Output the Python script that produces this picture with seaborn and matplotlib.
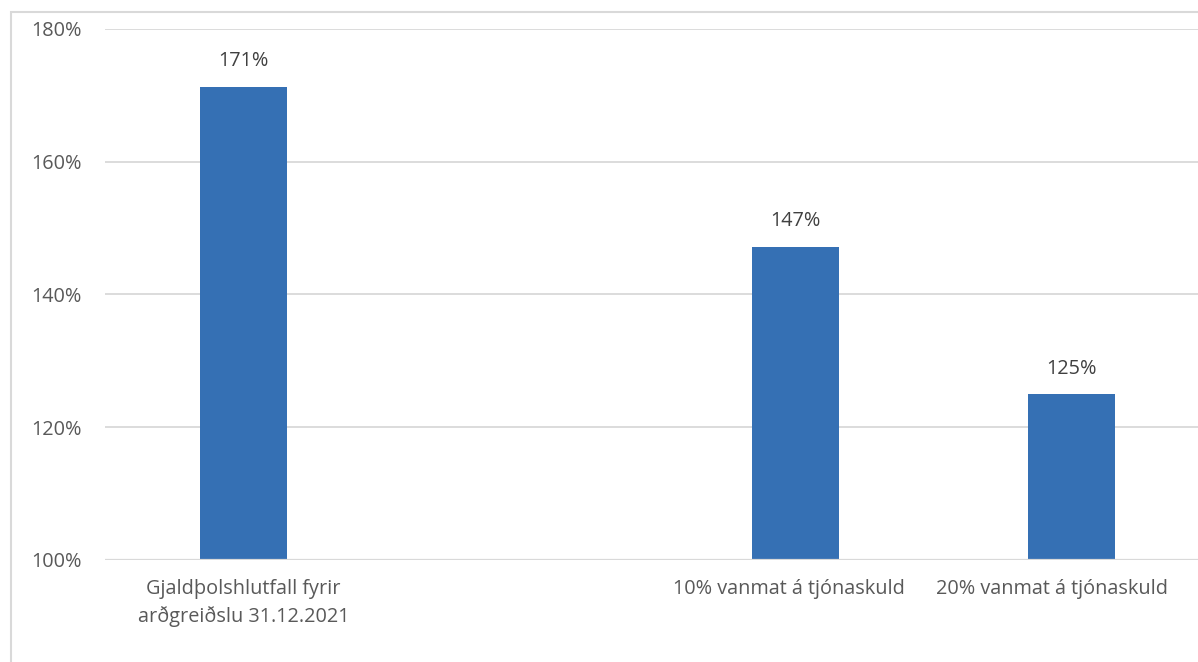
import matplotlib
matplotlib.use("Agg")
import matplotlib.pyplot as plt
import matplotlib.transforms as mtransforms
import seaborn as sns
import pandas as pd
import numpy as np
from matplotlib.patches import Rectangle

# Solvency ratio before dividend and under claim-reserve shortfall scenarios
categories = [
    "Gjaldþolshlutfall fyrir\narðgreiðslu 31.12.2021",
    " ",
    "10% vanmat á tjónaskuld",
    "20% vanmat á tjónaskuld",
]
ratios = [171.3, np.nan, 147.2, 125.0]
y_ticks = [100, 120, 140, 160, 180]

sns.set_theme(style="white")
plt.rcParams["font.family"] = ["Open Sans", "DejaVu Sans"]

W, H = 1198, 662
fig = plt.figure(figsize=(W / 100, H / 100), dpi=100)

# Outer chart frame
fig.patches.append(Rectangle((11 / W, -0.1), 1.2, 1 - 12 / H + 0.1,
                             transform=fig.transFigure, fill=False,
                             edgecolor="#d9d9d9", linewidth=1.5, zorder=0))

ax = fig.add_axes([105.3 / W, 1 - 560 / H, 1 - 105.3 / W, (560 - 29) / H])

df = pd.DataFrame({"cat": categories, "val": ratios})
sns.barplot(data=df, x="cat", y="val", order=categories, color="#3570b4",
            saturation=1, width=0.315, linewidth=0, ax=ax, zorder=3)

ax.set_xlim(-0.5, (W - 243.3) / 276)
ax.set_ylim(100, 180)
ax.set_yticks(y_ticks)
ax.set_yticklabels([f"{t}%" for t in y_ticks])
ax.grid(axis="y", color="#d9d9d9", linewidth=1.3, zorder=0)
ax.set_axisbelow(True)
for s in ax.spines.values():
    s.set_visible(False)
ax.axhline(100, color="#d9d9d9", linewidth=1.6, zorder=4)

ax.set_xlabel("")
ax.set_ylabel("")
ax.tick_params(axis="y", length=0, pad=17, labelsize=14.3, labelcolor="#595959")
ax.tick_params(axis="x", length=0, pad=14, labelsize=14.3, labelcolor="#595959")

# Nudge the right-hand category labels left so they stay inside the frame
x_shift_px = [0, 0, -6.5, -19]
for lbl, dx in zip(ax.get_xticklabels(), x_shift_px):
    lbl.set_linespacing(1.4)
    lbl.set_transform(lbl.get_transform() +
                      mtransforms.ScaledTranslation(dx / 100, 0, fig.dpi_scale_trans))

for i, v in enumerate(ratios):
    if not np.isnan(v):
        ax.annotate(f"{v:.0f}%", (i, v), xytext=(0, 11), textcoords="offset points",
                    ha="center", va="bottom", fontsize=14.3, color="#404040")

fig.savefig("out.png", dpi=100)
